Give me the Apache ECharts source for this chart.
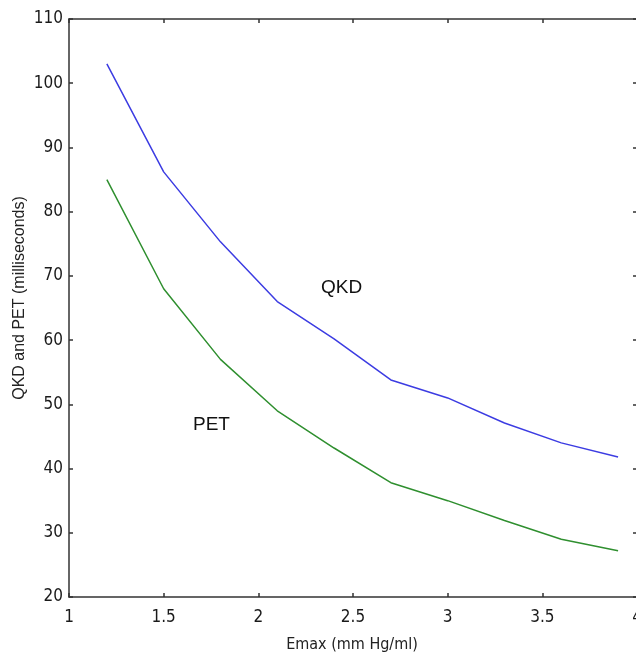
<!DOCTYPE html>
<html><head><meta charset="utf-8">
<script src="https://cdn.jsdelivr.net/npm/echarts@6/dist/echarts.min.js"></script>
<style>html,body{margin:0;padding:0;background:#fff}#c{width:636px;height:660px}</style>
</head><body><div id="c"></div>
<script>
const emax = [1.2, 1.5, 1.8, 2.1, 2.4, 2.7, 3.0, 3.3, 3.6, 3.9];
const qkd = [103, 86.2, 75.3, 66, 60.2, 53.8, 51, 47.1, 44, 41.8];
const pet = [85, 68, 57, 49, 43.2, 37.8, 35, 31.9, 29, 27.2];
const tickFont = '"DejaVu Sans Condensed", "Liberation Sans Narrow", Arial, sans-serif';
const axisColor = '#333';
const chart = echarts.init(document.getElementById('c'), null, {renderer: 'canvas'});
const base = {
  axisLine: {show: true, onZero: false, lineStyle: {color: axisColor, width: 1.5}},
  axisTick: {show: true, inside: true, length: 4, lineStyle: {color: axisColor, width: 1.5}},
  splitLine: {show: false}
};
chart.setOption({
  animation: false,
  grid: {left: 69, top: 19, right: -1, bottom: 63, outerBoundsMode: 'none', containLabel: false},
  xAxis: [
    Object.assign({}, base, {type: 'value', min: 1, max: 4, interval: 0.5, position: 'bottom',
      axisLabel: {fontFamily: tickFont, fontSize: 17, color: '#1a1a1a', margin: 12}}),
    Object.assign({}, base, {type: 'value', min: 1, max: 4, interval: 0.5, position: 'top',
      axisLabel: {show: false}})
  ],
  yAxis: [
    Object.assign({}, base, {type: 'value', min: 20, max: 110, interval: 10, position: 'left',
      axisLabel: {fontFamily: tickFont, fontSize: 17, color: '#1a1a1a', margin: 6}}),
    Object.assign({}, base, {type: 'value', min: 20, max: 110, interval: 10, position: 'right',
      axisLabel: {show: false}})
  ],
  series: [
    {type: 'line', name: 'QKD', data: emax.map((x, i) => [x, qkd[i]]), showSymbol: false,
      lineStyle: {color: '#3c3ce2', width: 1.5}, itemStyle: {color: '#3c3ce2'}},
    {type: 'line', name: 'PET', data: emax.map((x, i) => [x, pet[i]]), showSymbol: false,
      lineStyle: {color: '#2f8f2f', width: 1.5}, itemStyle: {color: '#2f8f2f'}}
  ],
  graphic: [
    {type: 'text', left: 321, top: 278, style: {text: 'QKD', font: '19px "Liberation Sans", Arial, sans-serif', fill: '#111'}},
    {type: 'text', left: 193, top: 415, style: {text: 'PET', font: '19px "Liberation Sans", Arial, sans-serif', fill: '#111'}},
    {type: 'text', x: 20, y: 298, rotation: Math.PI / 2,
      style: {text: 'QKD and PET (milliseconds)', font: '16px "Liberation Sans", Arial, sans-serif', fill: '#222',
        align: 'center', verticalAlign: 'middle'}},
    {type: 'text', x: 352, y: 645,
      style: {text: 'Emax (mm Hg/ml)', font: '16px ' + tickFont, fill: '#222',
        align: 'center', verticalAlign: 'middle'}}
  ]
});
</script></body></html>
